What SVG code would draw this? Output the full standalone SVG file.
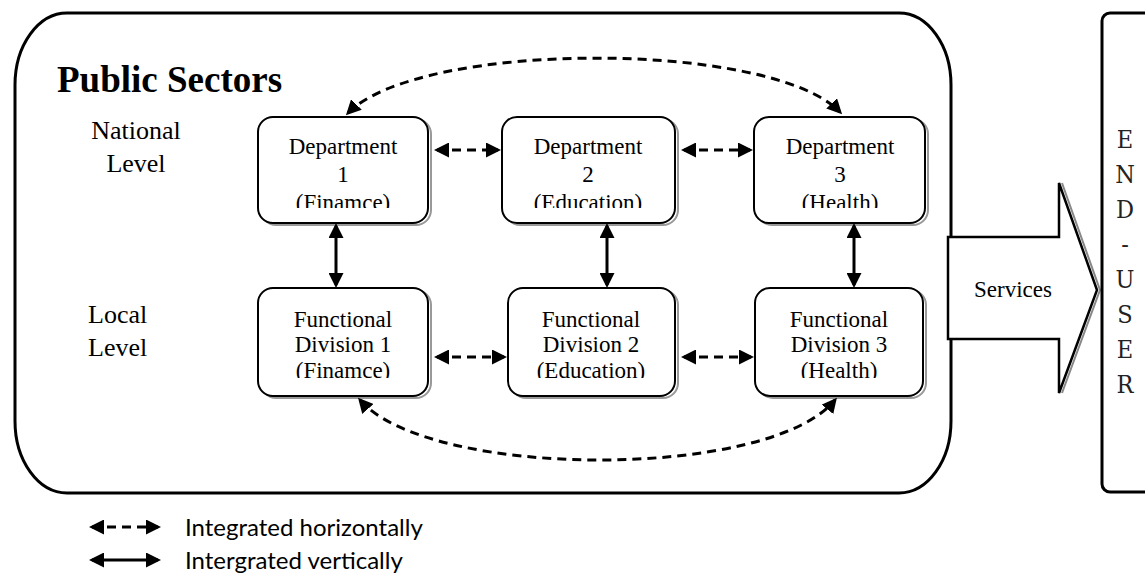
<svg xmlns="http://www.w3.org/2000/svg" width="1145" height="577" viewBox="0 0 1145 577">
<style>
.frame{fill:#fff;stroke:#000;stroke-width:3}
.node{fill:#fff;stroke:#000;stroke-width:2}
.shadow{fill:none;stroke:#999;stroke-width:2}
.t{font-family:"Liberation Serif","Times New Roman",serif;font-size:23px;text-anchor:middle;fill:#000}
.lvl{font-family:"Liberation Serif","Times New Roman",serif;font-size:26px;fill:#000}
.dash{fill:none;stroke:#000;stroke-width:3;stroke-dasharray:9 6}
.solid{fill:none;stroke:#000;stroke-width:3}
.leg{font-family:Lato,"Liberation Sans",sans-serif;font-size:24px;fill:#000}
.eu{font-family:"DejaVu Serif Condensed","Liberation Serif",serif;font-size:25px;text-anchor:middle;fill:#222}
</style>
<defs>
<marker id="ah" viewBox="0 0 10 10" refX="8" refY="5" markerWidth="5" markerHeight="5" orient="auto-start-reverse" markerUnits="strokeWidth"><path d="M0,0 L10,5 L0,10 z" fill="#000"/></marker>
<clipPath id="cd1"><rect x="258" y="117" width="170" height="91"/></clipPath>
<clipPath id="cd2"><rect x="502" y="117" width="173" height="91"/></clipPath>
<clipPath id="cd3"><rect x="754" y="117" width="171" height="91"/></clipPath>
<clipPath id="cf1"><rect x="258" y="288" width="170" height="90"/></clipPath>
<clipPath id="cf2"><rect x="508" y="288" width="167" height="90"/></clipPath>
<clipPath id="cf3"><rect x="755" y="288" width="168" height="90"/></clipPath>
</defs>

<g id="public-sectors">
<rect class="frame" x="15" y="13" width="936" height="480" rx="52" ry="72"/>
<text x="57" y="92" style="font-family:'Liberation Serif','Times New Roman',serif;font-size:37px;font-weight:bold">Public Sectors</text>
</g>

<g id="level-labels">
<text class="lvl" x="136" y="139" text-anchor="middle">National</text>
<text class="lvl" x="136" y="172" text-anchor="middle">Level</text>
<text class="lvl" x="88" y="323">Local</text>
<text class="lvl" x="88" y="356">Level</text>
</g>

<g id="dept1">
<rect class="shadow" x="261" y="119" width="170" height="106" rx="15"/>
<rect class="node" x="258" y="117" width="170" height="106" rx="15"/>
<g clip-path="url(#cd1)"><text class="t" x="343" y="154">Department</text><text class="t" x="343" y="182">1</text><text class="t" x="343" y="210">(Finamce)</text></g>
</g>
<g id="dept2">
<rect class="shadow" x="505" y="119" width="173" height="106" rx="15"/>
<rect class="node" x="502" y="117" width="173" height="106" rx="15"/>
<g clip-path="url(#cd2)"><text class="t" x="588" y="154">Department</text><text class="t" x="588" y="182">2</text><text class="t" x="588" y="210">(Education)</text></g>
</g>
<g id="dept3">
<rect class="shadow" x="757" y="119" width="171" height="106" rx="15"/>
<rect class="node" x="754" y="117" width="171" height="106" rx="15"/>
<g clip-path="url(#cd3)"><text class="t" x="840" y="154">Department</text><text class="t" x="840" y="182">3</text><text class="t" x="840" y="210">(Health)</text></g>
</g>

<g id="fd1">
<rect class="shadow" x="261" y="290" width="170" height="108" rx="15"/>
<rect class="node" x="258" y="288" width="170" height="108" rx="15"/>
<g clip-path="url(#cf1)"><text class="t" x="343" y="327">Functional</text><text class="t" x="343" y="352">Division 1</text><text class="t" x="343" y="378">(Finamce)</text></g>
</g>
<g id="fd2">
<rect class="shadow" x="511" y="290" width="167" height="108" rx="15"/>
<rect class="node" x="508" y="288" width="167" height="108" rx="15"/>
<g clip-path="url(#cf2)"><text class="t" x="591" y="327">Functional</text><text class="t" x="591" y="352">Division 2</text><text class="t" x="591" y="378">(Education)</text></g>
</g>
<g id="fd3">
<rect class="shadow" x="758" y="290" width="168" height="108" rx="15"/>
<rect class="node" x="755" y="288" width="168" height="108" rx="15"/>
<g clip-path="url(#cf3)"><text class="t" x="839" y="327">Functional</text><text class="t" x="839" y="352">Division 3</text><text class="t" x="839" y="378">(Health)</text></g>
</g>

<g id="connectors">
<path class="dash" d="M437 150 L498 150" marker-start="url(#ah)" marker-end="url(#ah)"/>
<path class="dash" d="M684 150 L750 150" marker-start="url(#ah)" marker-end="url(#ah)"/>
<path class="dash" d="M437 357 L504 357" marker-start="url(#ah)" marker-end="url(#ah)"/>
<path class="dash" d="M684 357 L751 357" marker-start="url(#ah)" marker-end="url(#ah)"/>
<path class="solid" d="M336 226 L336 285" marker-start="url(#ah)" marker-end="url(#ah)"/>
<path class="solid" d="M607 226 L607 285" marker-start="url(#ah)" marker-end="url(#ah)"/>
<path class="solid" d="M854 226 L854 285" marker-start="url(#ah)" marker-end="url(#ah)"/>
<path class="dash" d="M348 113 C420 40 770 40 840 112" marker-start="url(#ah)" marker-end="url(#ah)"/>
<path class="dash" d="M360 400 C430 480 770 480 835 400" marker-start="url(#ah)" marker-end="url(#ah)"/>
</g>

<g id="services">
<path d="M1062 183 L1100 290 L1062 393" fill="none" stroke="#888" stroke-width="2"/>
<path d="M948 237 L1059 237 L1059 183 L1097 290 L1059 393 L1059 339 L948 339 Z" fill="#fff" stroke="#000" stroke-width="2.5" stroke-linejoin="miter"/>
<text class="t" x="1013" y="297">Services</text>
</g>

<g id="end-user">
<rect class="frame" x="1102" y="13" width="80" height="479" rx="8"/>
<text class="eu" x="1125" y="148">E</text>
<text class="eu" x="1125" y="183">N</text>
<text class="eu" x="1125" y="218">D</text>
<text class="eu" x="1125" y="253">-</text>
<text class="eu" x="1125" y="288">U</text>
<text class="eu" x="1125" y="323">S</text>
<text class="eu" x="1125" y="358">E</text>
<text class="eu" x="1125" y="393">R</text>
</g>

<g id="legend">
<path class="dash" d="M92 527 L158 527" stroke-dasharray="7 6" marker-start="url(#ah)" marker-end="url(#ah)"/>
<path class="solid" d="M92 560 L158 560" marker-start="url(#ah)" marker-end="url(#ah)"/>
<text class="leg" x="185" y="536">Integrated horizontally</text>
<text class="leg" x="185" y="569">Intergrated vertically</text>
</g>
</svg>
